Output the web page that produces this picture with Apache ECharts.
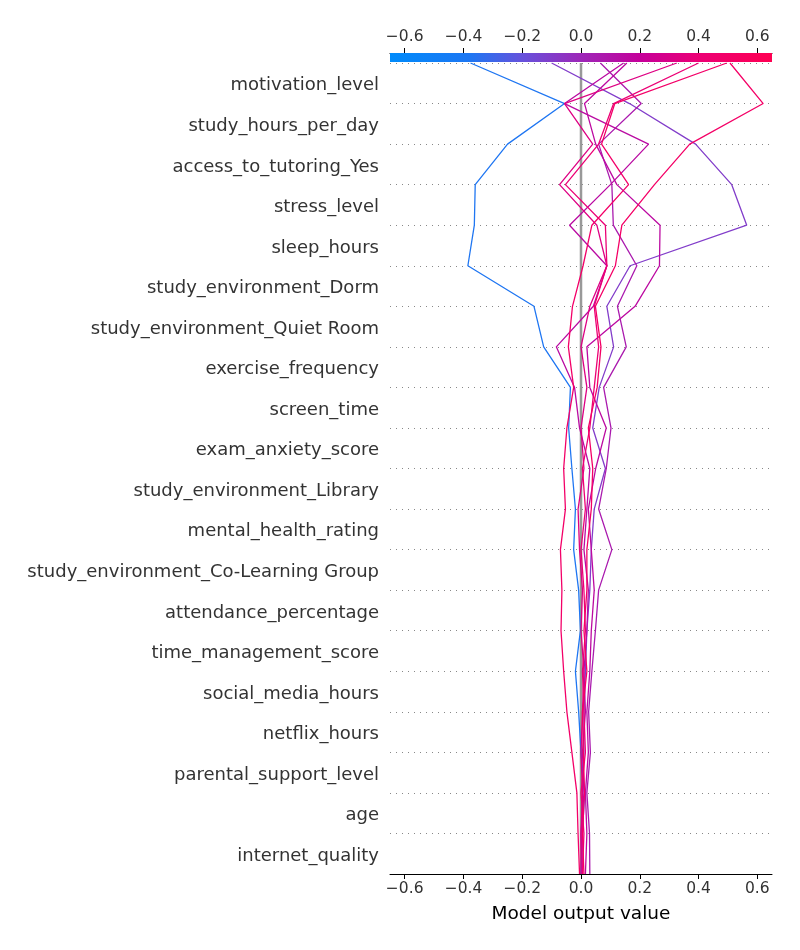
<!DOCTYPE html>
<html><head><meta charset="utf-8">
<script src="https://cdn.jsdelivr.net/npm/echarts@6/dist/echarts.min.js"></script>
<style>html,body{margin:0;padding:0;background:#fff}#chart{width:800px;height:950px}</style>
</head><body><div id="chart"></div>
<script>
// Feature names, top to bottom
const features = [
  "motivation_level","study_hours_per_day","access_to_tutoring_Yes","stress_level","sleep_hours",
  "study_environment_Dorm","study_environment_Quiet Room","exercise_frequency","screen_time",
  "exam_anxiety_score","study_environment_Library","mental_health_rating",
  "study_environment_Co-Learning Group","attendance_percentage","time_management_score",
  "social_media_hours","netflix_hours","parental_support_level","age","internet_quality"
];
const xTickValues = [-0.6, -0.4, -0.2, 0.0, 0.2, 0.4, 0.6];
const baseValue = 0.0;

// Cumulative model output at each level, from the top (final output) down to the bottom.
const obsA = [-0.376,-0.056,-0.25,-0.36,-0.363,-0.385,-0.16,-0.127,-0.036,-0.042,-0.031,-0.019,-0.025,-0.008,-0.002,-0.019,-0.008,0.0,0.012,0.005,0.0];
const obsB = [-0.10,0.165,0.39,0.513,0.564,0.167,0.088,0.111,0.062,0.04,0.083,0.045,0.035,0.03,0.02,0.015,0.01,0.01,0.005,0.005,0.002];
const obsC = [0.066,0.205,0.06,0.105,0.11,0.19,0.124,0.154,0.077,0.102,0.086,0.06,0.105,0.06,0.049,0.037,0.026,0.032,0.02,0.029,0.03];
const obsD = [0.145,-0.056,0.23,0.10,-0.039,0.088,0.042,-0.084,-0.022,-0.005,0.03,0.02,0.01,0.025,0.02,0.01,0.015,0.005,0.01,0.0,0.005];
const obsE = [0.156,0.012,0.05,0.122,0.269,0.267,0.184,0.02,0.03,0.086,0.05,0.025,0.035,0.045,0.035,0.03,0.02,0.025,0.015,0.02,0.015];
const obsF = [0.326,-0.056,0.04,-0.073,0.054,0.088,0.03,0.0,0.02,0.0,0.01,-0.01,-0.005,0.005,0.0,0.01,0.005,0.0,0.005,0.0,0.0];
const obsG = [0.40,0.111,0.06,-0.053,0.083,0.088,0.045,0.06,0.045,0.03,0.005,0.015,0.0,0.01,0.015,0.005,0.01,0.015,0.0,0.01,0.005];
const obsH = [0.496,0.115,0.07,0.162,0.037,0.007,-0.029,-0.043,-0.025,-0.048,-0.059,-0.053,-0.07,-0.065,-0.068,-0.059,-0.048,-0.031,-0.014,-0.01,-0.005];
const obsI = [0.507,0.62,0.37,0.25,0.139,0.117,0.049,0.068,0.055,0.025,0.04,0.035,0.02,0.02,0.01,0.02,0.005,0.008,0.012,0.005,0.01];
const observations = [obsA, obsB, obsC, obsD, obsE, obsF, obsG, obsH, obsI];

const xMin = -0.65, xMax = 0.65;
const colorStops = [[-0.65,'#008bfb'],[-0.38,'#1d77f3'],[-0.2,'#6652dc'],[0.0,'#9d27b8'],[0.2,'#c5009a'],[0.4,'#ec0075'],[0.65,'#ff0052']];

function hexToRgb(h){return [parseInt(h.slice(1,3),16),parseInt(h.slice(3,5),16),parseInt(h.slice(5,7),16)];}
function colorFor(v){
  if (v <= colorStops[0][0]) return colorStops[0][1];
  for (let i = 1; i < colorStops.length; i++) {
    if (v <= colorStops[i][0]) {
      const [v0,c0] = colorStops[i-1], [v1,c1] = colorStops[i];
      const t = (v - v0) / (v1 - v0);
      const a = hexToRgb(c0), b = hexToRgb(c1);
      return 'rgb(' + a.map((x,k)=>Math.round(x + (b[k]-x)*t)).join(',') + ')';
    }
  }
  return colorStops[colorStops.length-1][1];
}
const fmt = v => (Math.abs(v) < 1e-9 ? '0.0' : Number(v).toFixed(1)).replace('-', '\u2212');
const FONT = 'DejaVu Sans';

const chart = echarts.init(document.getElementById('chart'), null, {renderer:'canvas'});

const lineSeries = observations.map(obs => ({
  type:'line', xAxisIndex:0, yAxisIndex:0, symbol:'none', silent:true, z:3,
  data: obs.map((v,i)=>[v,i]),
  lineStyle:{color:colorFor(obs[0]), width:1.3}
}));

const gradStops = colorStops.map(([v,c]) => ({offset:(v - xMin)/(xMax - xMin), color:c}));

const option = {
  animation:false,
  backgroundColor:'#ffffff',
  grid:[
    {left:390, right:28, top:63, bottom:76, containLabel:false, outerBoundsMode:'none'},
    {left:390, right:28, top:53, height:9, containLabel:false, outerBoundsMode:'none'}
  ],
  xAxis:[
    {gridIndex:0, type:'value', min:xMin, max:xMax, position:'bottom',
     axisLine:{show:true, onZero:false, lineStyle:{color:'#000', width:1}},
     axisTick:{show:true, length:5, customValues:xTickValues, lineStyle:{color:'#000'}},
     axisLabel:{customValues:xTickValues, formatter:fmt, fontSize:15.5, color:'#333', margin:7, fontFamily:FONT},
     splitLine:{show:false},
     name:'Model output value', nameLocation:'middle', nameGap:31,
     nameTextStyle:{fontSize:18.5, color:'#000', fontFamily:FONT}},
    {gridIndex:1, type:'value', min:xMin, max:xMax, position:'top',
     axisLine:{show:true, onZero:false, lineStyle:{color:'#000', width:1}},
     axisTick:{show:true, length:5, customValues:xTickValues, lineStyle:{color:'#000'}},
     axisLabel:{customValues:xTickValues, formatter:fmt, fontSize:15.5, color:'#333', margin:8, fontFamily:FONT},
     splitLine:{show:false}}
  ],
  yAxis:[
    {gridIndex:0, type:'value', min:0, max:20, interval:1, inverse:true,
     axisLine:{show:false}, axisTick:{show:false}, axisLabel:{show:false},
     splitLine:{show:true, lineStyle:{color:'#888', width:1, type:[1,5]}}},
    {gridIndex:0, type:'category', data:features, inverse:true, position:'left',
     axisLine:{show:false}, axisTick:{show:false},
     axisLabel:{margin:11, hideOverlap:false, interval:0,
       formatter: v => '{f|' + v + '}',
       rich:{f:{fontSize:18, color:'#333', fontFamily:FONT, padding:[5,0,0,0]}}},
     splitLine:{show:false}},
    {gridIndex:1, type:'value', min:0, max:1, show:false}
  ],
  series:[
    {type:'custom', xAxisIndex:1, yAxisIndex:2, silent:true, data:[[xMin, xMax]],
     renderItem:(params, api) => {
       const p0 = api.coord([api.value(0), 0]);
       const p1 = api.coord([api.value(1), 1]);
       return {type:'rect', shape:{x:p0[0], y:p1[1], width:p1[0]-p0[0], height:p0[1]-p1[1]},
               style:{fill:new echarts.graphic.LinearGradient(0,0,1,0,gradStops)}};
     }},
    {type:'line', xAxisIndex:0, yAxisIndex:0, symbol:'none', silent:true, z:1,
     data:[[baseValue,0],[baseValue,20]], lineStyle:{color:'#999999', width:2.5}},
    ...lineSeries
  ]
};
chart.setOption(option);
</script>
</body></html>
